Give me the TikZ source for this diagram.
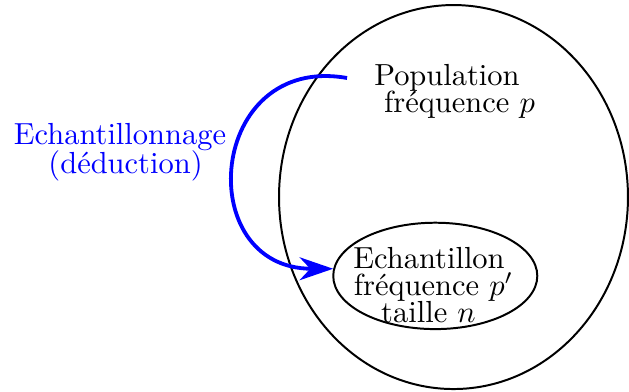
\documentclass[tikz,border=0pt]{standalone}
\usepackage{fontspec}
\usepackage{amsmath,amssymb}
\usepackage{tikz}
\usetikzlibrary{arrows.meta, shapes.geometric, positioning}

\begin{document}
\begin{tikzpicture}
        % Styles
        \tikzset{
          txt/.style={
            inner sep=0pt,
            anchor=base
          },
          ensemble/.style={
            draw, ellipse,
            line width=0.65pt,
            inner sep=0pt
          },
          fleche/.style={
            draw=blue,
            line width=1.25pt,
            -{Stealth[length=11pt,width=7.5pt,inset=3.5pt]}
          }
        }

        % frame of the picture
        \useasboundingbox (0,0) rectangle (7.25,-4.507);

        % population
        \node[ensemble, minimum width=4.022cm, minimum height=4.426cm] (pop) at (5.227,-2.271) {};
        \node[txt] (poptitre) at (5.152,-0.980) {Population};
        \node[txt] (popfreq) at (5.296,-1.302) {fréquence $p$};

        % sample inside the population
        \node[ensemble, minimum width=2.352cm, minimum height=1.226cm] (ech) at (5.017,-3.180) {};
        \node[txt] (echtitre) at (4.945,-3.090) {Echantillon};
        \node[txt] (echfreq) at (4.997,-3.410) {fréquence $p'$};
        \node[txt] (echtaille) at (4.939,-3.715) {taille $n$};

        % label on the left
        \node[txt, text=blue] (lbl1) at (1.383,-1.671) {Echantillonnage};
        \node[txt, text=blue] (lbl2) at (1.447,-1.994) {(déduction)};

        % curved arrow
        \coordinate (depart) at (4.0,-0.899);
        \draw[fleche] (depart) to[out=170, in=180, looseness=1.9] (ech.176);
    \end{tikzpicture}
\end{document}
